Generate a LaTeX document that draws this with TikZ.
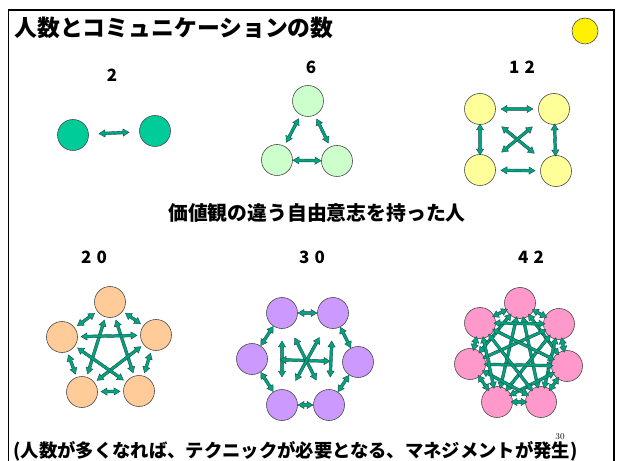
\documentclass[tikz,border=0pt]{standalone}
\usepackage{fontspec}
\newfontfamily\jfont{Noto Sans CJK JP}
\newfontfamily\numfont{Noto Sans CJK JP}[LetterSpace=30]
\usetikzlibrary{calc}

\definecolor{greenfill}{HTML}{00CC99}
\definecolor{mintfill}{HTML}{CCFFCC}
\definecolor{lemonfill}{HTML}{FFFF99}
\definecolor{peachfill}{HTML}{FFCC99}
\definecolor{lilacfill}{HTML}{CC99FF}
\definecolor{pinkfill}{HTML}{FF99CC}
\definecolor{linkfill}{HTML}{00A383}
\definecolor{linkedge}{HTML}{1F4A40}

% double-headed block arrow between two people, #1 = gap from centre
\newcommand\commlink[3]{%
  \path ($(#2)!#1bp!(#3)$) coordinate (ls) ($(#3)!#1bp!(#2)$) coordinate (le);
  \path ($(ls)!6bp!(le)$) coordinate (lsh) ($(le)!6bp!(ls)$) coordinate (leh);
  \filldraw[link] (ls) -- ($(lsh)!3.6bp!90:(le)$) -- ($(lsh)!1.4bp!90:(le)$)
    -- ($(leh)!1.4bp!-90:(ls)$) -- ($(leh)!3.6bp!-90:(ls)$) -- (le)
    -- ($(leh)!3.6bp!90:(ls)$) -- ($(leh)!1.4bp!90:(ls)$)
    -- ($(lsh)!1.4bp!-90:(le)$) -- ($(lsh)!3.6bp!-90:(le)$) -- cycle;}

\begin{document}
\begin{tikzpicture}[x=1bp,y=-1bp,
    person/.style={draw=black!70,line width=0.6bp,circle,minimum size=31bp,inner sep=0pt},
    link/.style={fill=linkfill,draw=linkedge,line width=0.4bp,line join=miter},
    count/.style={font=\numfont\bfseries\fontsize{17}{17}\selectfont},
    heading/.style={font=\jfont\bfseries\fontsize{#1}{#1}\selectfont}]
            \useasboundingbox (0,0) rectangle (617,461);
            \draw[line width=1.3bp] (8.5,461) -- (8.5,10) -- (614,10) -- (614,461);

            \node[heading=22.9,anchor=west] (title) at (11,28) {人数とコミュニケーションの数};
            \node[draw=black!70,line width=0.6bp,circle,fill=yellow,minimum size=26bp,inner sep=0pt] (sun) at (585,31) {};

            % 2 people
            \node[count] (n2) at (112,75) {2};
            \node[person,fill=greenfill] (a1) at (73,135) {};
            \node[person,fill=greenfill] (a2) at (155,131) {};
            \commlink{26}{a1}{a2}

            % 3 people
            \node[count] (n6) at (311,67) {6};
            \node[person,fill=mintfill] (b1) at (308,101) {};
            \node[person,fill=mintfill] (b2) at (277,160) {};
            \node[person,fill=mintfill] (b3) at (337,161) {};
            \commlink{20}{b1}{b2}
            \commlink{20}{b1}{b3}
            \commlink{16}{b2}{b3}

            % 4 people
            \node[count] (n12) at (522,67) {12};
            \node[person,fill=lemonfill] (c1) at (480,109) {};
            \node[person,fill=lemonfill] (c2) at (554,109) {};
            \node[person,fill=lemonfill] (c3) at (480,170) {};
            \node[person,fill=lemonfill] (c4) at (556,171) {};
            \commlink{21}{c1}{c2}
            \commlink{21}{c3}{c4}
            \commlink{15}{c1}{c3}
            \commlink{15}{c2}{c4}
            \commlink{28}{c1}{c4}
            \commlink{28}{c2}{c3}

            \node[heading=19.9] (values) at (317,213) {価値観の違う自由意志を持った人};

            % 5 people
            \node[count] (n20) at (94,257) {20};
            \node[person,fill=peachfill] (d1) at (110,302) {};
            \node[person,fill=peachfill] (d2) at (156,335) {};
            \node[person,fill=peachfill] (d3) at (139,391) {};
            \node[person,fill=peachfill] (d4) at (82,392) {};
            \node[person,fill=peachfill] (d5) at (62,337) {};
            \foreach \i in {1,...,4} \foreach \j in {2,...,5} {\ifnum\i<\j \commlink{19}{d\i}{d\j}\fi}

            % 6 people
            \node[count] (n30) at (312,257) {30};
            \node[person,fill=lilacfill] (e1) at (282,313) {};
            \node[person,fill=lilacfill] (e2) at (333,313) {};
            \node[person,fill=lilacfill] (e3) at (358,362) {};
            \node[person,fill=lilacfill] (e4) at (329,405) {};
            \node[person,fill=lilacfill] (e5) at (282,405) {};
            \node[person,fill=lilacfill] (e6) at (252,359) {};
            \commlink{16}{e1}{e2}
            \commlink{16}{e2}{e3}
            \commlink{16}{e3}{e4}
            \commlink{16}{e4}{e5}
            \commlink{16}{e5}{e6}
            \commlink{16}{e6}{e1}
            \commlink{28}{e1}{e5}
            \commlink{28}{e2}{e4}
            \commlink{28}{e6}{e3}
            \commlink{28}{e1}{e4}
            \commlink{28}{e2}{e5}

            % 7 people
            \node[count] (n42) at (531,257) {42};
            \node[person,fill=pinkfill] (f1) at (520,303) {};
            \node[person,fill=pinkfill] (f2) at (559,324) {};
            \node[person,fill=pinkfill] (f3) at (567,366) {};
            \node[person,fill=pinkfill] (f4) at (541,402) {};
            \node[person,fill=pinkfill] (f5) at (497,402) {};
            \node[person,fill=pinkfill] (f6) at (470,364) {};
            \node[person,fill=pinkfill] (f7) at (480,323) {};
            \foreach \i in {1,...,6} \foreach \j in {2,...,7} {\ifnum\i<\j \commlink{14}{f\i}{f\j}\fi}

            \node[font=\fontsize{9}{9}\selectfont] (page) at (560,437) {30};
            \node[heading=18.4,anchor=west] (note) at (10,451) {(人数が多くなれば、テクニックが必要となる、マネジメントが発生)};

        \end{tikzpicture}
\end{document}
